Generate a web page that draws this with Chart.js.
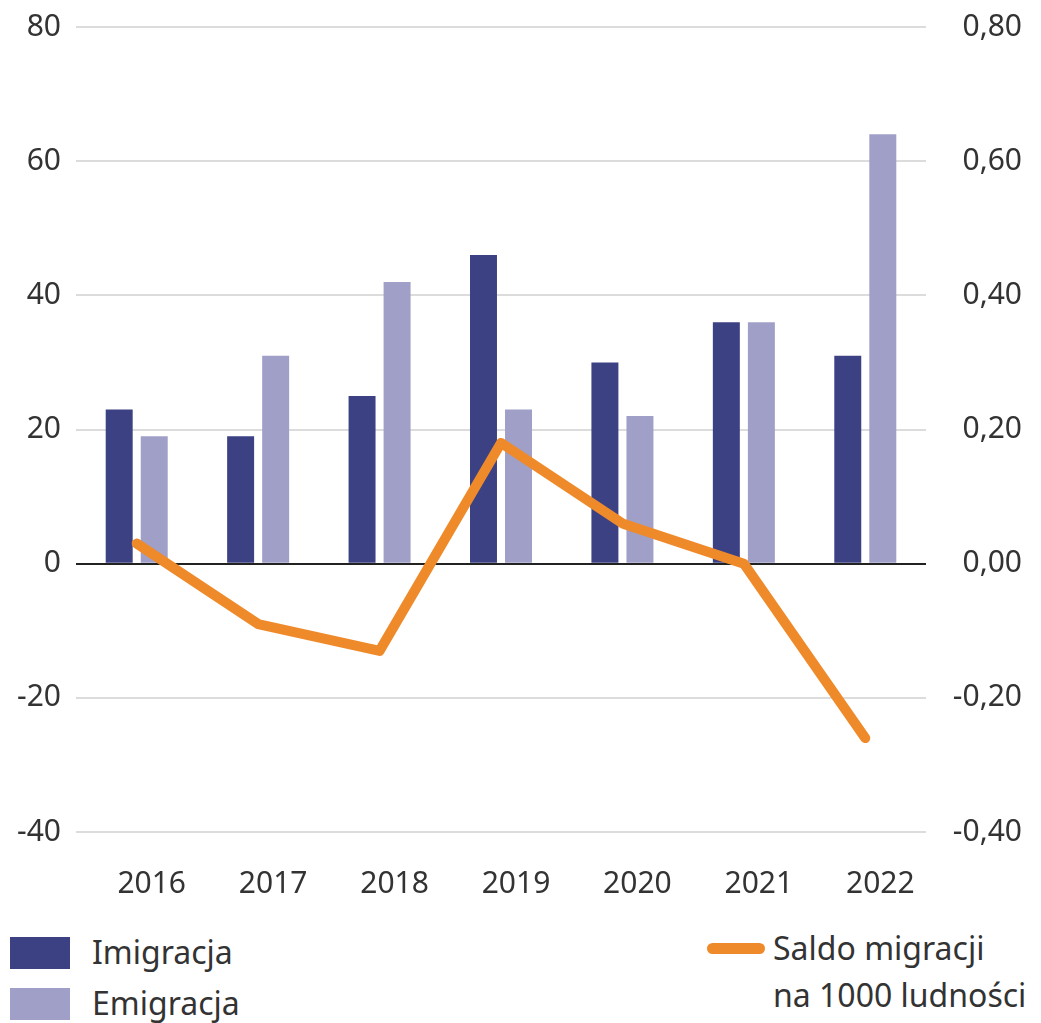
<!DOCTYPE html>
<html>
<head>
<meta charset="utf-8">
<script src="https://cdn.jsdelivr.net/npm/chart.js@4"></script>
<style>
  body { margin: 0; background: #fff; font-family: "Noto Sans", sans-serif; color: #333; }
  #wrap { position: relative; width: 1041px; height: 1023px; overflow: hidden; }
  #chart-box { position: absolute; left: 0; top: -6px; width: 1041px; height: 906px; }
  .leg { position: absolute; font-size: 32px; line-height: 47px; color: #333; white-space: nowrap; }
  .box { position: absolute; width: 60px; height: 32px; }
  .ln { position: absolute; width: 58px; height: 11px; border-radius: 6px; background: #ef8a2a; }
</style>
</head>
<body>
<div id="wrap">
  <div id="chart-box"><canvas id="migr-chart"></canvas></div>

  <div class="box" style="left:10px;top:937px;background:#3c4183"></div>
  <div class="leg" style="left:92px;top:928px">Imigracja</div>
  <div class="box" style="left:10px;top:988px;background:#a09fc8"></div>
  <div class="leg" style="left:92px;top:979px">Emigracja</div>

  <div class="ln" style="left:707px;top:943px"></div>
  <div class="leg" style="left:773px;top:924px">Saldo migracji<br>na 1000 ludności</div>
</div>

<script>
const lata = ['2016','2017','2018','2019','2020','2021','2022'];
const imigracja = [23, 19, 25, 46, 30, 36, 31];
const emigracja = [19, 31, 42, 23, 22, 36, 64];
const saldo = [0.03, -0.09, -0.13, 0.18, 0.06, 0.00, -0.26];

const fontTicks = { family: '"Noto Sans", sans-serif', size: 30 };

const ctx = document.getElementById('migr-chart').getContext('2d');

new Chart(ctx, {
  type: 'bar',
  data: {
    labels: lata,
    datasets: [
      {
        type: 'line',
        label: 'Saldo migracji na 1000 ludności',
        data: saldo,
        yAxisID: 'y1',
        borderColor: '#ef8a2a',
        borderWidth: 10,
        borderCapStyle: 'round',
        borderJoinStyle: 'round',
        pointRadius: 0,
        tension: 0,
        order: 0
      },
      {
        label: 'Imigracja',
        data: imigracja,
        backgroundColor: '#3c4183',
        categoryPercentage: 0.577,
        barPercentage: 0.77,
        order: 1
      },
      {
        label: 'Emigracja',
        data: emigracja,
        backgroundColor: '#a09fc8',
        categoryPercentage: 0.577,
        barPercentage: 0.77,
        order: 1
      }
    ]
  },
  options: {
    responsive: true,
    maintainAspectRatio: false,
    animation: false,
    layout: { padding: { top: 21, right: 19, left: 0, bottom: 0 } },
    plugins: {
      legend: { display: false },
      tooltip: { enabled: false }
    },
    scales: {
      x: {
        grid: { display: false },
        border: { display: false },
        ticks: {
          color: '#333',
          font: fontTicks,
          padding: 26,
          labelOffset: 15,
          maxRotation: 0
        },
        afterFit: (axis) => { axis.height = 68; }
      },
      y: {
        position: 'left',
        min: -40,
        max: 80,
        border: { display: false },
        grid: {
          drawTicks: false,
          lineWidth: 2,
          color: (c) => c.tick && c.tick.value === 0 ? '#222' : '#dcdcdc'
        },
        ticks: {
          stepSize: 20,
          color: '#333',
          font: fontTicks,
          padding: 15,
          callback: (v) => String(v)
        },
        afterFit: (axis) => { axis.width = 76; }
      },
      y1: {
        position: 'right',
        min: -0.4,
        max: 0.8,
        border: { display: false },
        grid: { display: false, drawOnChartArea: false },
        ticks: {
          stepSize: 0.2,
          color: '#333',
          font: fontTicks,
          crossAlign: 'far',
          callback: (v) => v.toFixed(2).replace('.', ',')
        },
        afterFit: (axis) => { axis.width = 96; }
      }
    }
  }
});
</script>
</body>
</html>
